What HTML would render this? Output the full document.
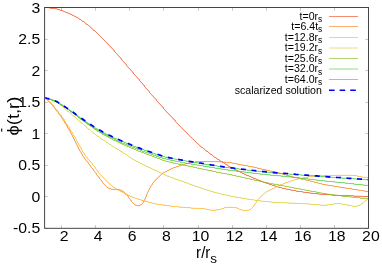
<!DOCTYPE html><html><head><meta charset="utf-8"><style>html,body{margin:0;padding:0;background:#fff}svg{display:block}text{font-family:"Liberation Sans",sans-serif;fill:#000}</style></head><body>
<svg width="382" height="267" viewBox="0 0 382 267">
<rect width="382" height="267" fill="#fff"/>
<path d="M61.50 228.30 v-3.2 M61.50 7.50 v3.2 M95.50 228.30 v-3.2 M95.50 7.50 v3.2 M129.50 228.30 v-3.2 M129.50 7.50 v3.2 M163.50 228.30 v-3.2 M163.50 7.50 v3.2 M198.50 228.30 v-3.2 M198.50 7.50 v3.2 M232.50 228.30 v-3.2 M232.50 7.50 v3.2 M266.50 228.30 v-3.2 M266.50 7.50 v3.2 M300.50 228.30 v-3.2 M300.50 7.50 v3.2 M334.50 228.30 v-3.2 M334.50 7.50 v3.2 M368.50 228.30 v-3.2 M368.50 7.50 v3.2 M44.60 228.50 h3.2 M368.50 228.50 h-3.2 M44.60 196.50 h3.2 M368.50 196.50 h-3.2 M44.60 165.50 h3.2 M368.50 165.50 h-3.2 M44.60 133.50 h3.2 M368.50 133.50 h-3.2 M44.60 102.50 h3.2 M368.50 102.50 h-3.2 M44.60 70.50 h3.2 M368.50 70.50 h-3.2 M44.60 39.50 h3.2 M368.50 39.50 h-3.2 M44.60 7.50 h3.2 M368.50 7.50 h-3.2" stroke="#8c8c8c" stroke-width="0.5" fill="none"/>
<path d="M45 7h5v1h-5zM50 8h7v1h-7zM57 9h3v1h-3zM60 10h3v1h-3zM63 11h2v1h-2zM65 12h3v1h-3zM68 13h2v1h-2zM70 14h2v1h-2zM72 15h2v1h-2zM74 16h2v1h-2zM76 17h2v1h-2zM78 18h1v1h-1zM79 19h2v1h-2zM81 20h1v1h-1zM82 21h2v1h-2zM84 22h1v1h-1zM85 23h1v1h-1zM86 24h2v1h-2zM88 25h1v1h-1zM89 26h1v1h-1zM90 27h1v1h-1zM91 28h1v1h-1zM92 29h1v1h-1zM93 30h2v1h-2zM95 31h1v1h-1zM96 32h1v1h-1zM97 33h1v1h-1zM98 34h1v1h-1zM99 35h1v1h-1zM100 36h1v1h-1zM101 37h1v1h-1zM102 38h1v1h-1zM103 39h1v1h-1zM104 40h1v1h-1zM105 41h1v1h-1zM106 42h1v1h-1zM107 43h1v1h-1zM108 44h1v1h-1zM109 45h1v1h-1zM110 46h1v1h-1zM111 47h1v1h-1zM112 48h1v1h-1zM113 49h1v1h-1zM114 50h1v1h-1zM114 51h1v1h-1zM115 52h1v1h-1zM116 53h1v1h-1zM117 54h1v1h-1zM118 55h1v1h-1zM119 56h1v1h-1zM120 57h1v1h-1zM121 58h1v1h-1zM121 59h1v1h-1zM122 60h1v1h-1zM123 61h1v1h-1zM124 62h1v1h-1zM125 63h1v1h-1zM126 64h1v1h-1zM126 65h1v1h-1zM127 66h1v1h-1zM128 67h1v1h-1zM129 68h1v1h-1zM130 69h1v1h-1zM131 70h1v1h-1zM132 71h1v1h-1zM133 72h1v1h-1zM133 73h1v1h-1zM134 74h1v1h-1zM135 75h1v1h-1zM136 76h1v1h-1zM137 77h1v1h-1zM138 78h1v1h-1zM139 79h1v1h-1zM139 80h1v1h-1zM140 81h1v1h-1zM141 82h1v1h-1zM142 83h1v1h-1zM143 84h1v1h-1zM144 85h1v1h-1zM144 86h1v1h-1zM145 87h1v1h-1zM146 88h1v1h-1zM147 89h1v1h-1zM148 90h1v1h-1zM149 91h1v1h-1zM149 92h1v1h-1zM150 93h1v1h-1zM151 94h1v1h-1zM152 95h1v1h-1zM153 96h1v1h-1zM154 97h1v1h-1zM155 98h1v1h-1zM156 99h1v1h-1zM156 100h1v1h-1zM157 101h1v1h-1zM158 102h1v1h-1zM159 103h1v1h-1zM160 104h1v1h-1zM161 105h1v1h-1zM162 106h1v1h-1zM163 107h1v1h-1zM163 108h1v1h-1zM164 109h1v1h-1zM165 110h1v1h-1zM166 111h1v1h-1zM167 112h1v1h-1zM168 113h1v1h-1zM169 114h1v1h-1zM170 115h1v1h-1zM171 116h1v1h-1zM172 117h1v1h-1zM173 118h1v1h-1zM174 119h1v1h-1zM175 120h1v1h-1zM175 121h1v1h-1zM176 122h1v1h-1zM177 123h1v1h-1zM178 124h1v1h-1zM179 125h1v1h-1zM180 126h1v1h-1zM181 127h1v1h-1zM182 128h1v1h-1zM183 129h1v1h-1zM184 130h1v1h-1zM185 131h1v1h-1zM186 132h1v1h-1zM187 133h1v1h-1zM188 134h1v1h-1zM189 135h1v1h-1zM190 136h1v1h-1zM191 137h1v1h-1zM192 138h1v1h-1zM193 139h1v1h-1zM194 140h1v1h-1zM195 141h1v1h-1zM196 142h1v1h-1zM197 143h1v1h-1zM198 144h1v1h-1zM199 145h1v1h-1zM200 146h1v1h-1zM201 147h2v1h-2zM203 148h1v1h-1zM204 149h1v1h-1zM205 150h1v1h-1zM206 151h2v1h-2zM208 152h1v1h-1zM209 153h1v1h-1zM210 154h2v1h-2zM212 155h1v1h-1zM213 156h1v1h-1zM214 157h2v1h-2zM216 158h1v1h-1zM217 159h2v1h-2zM219 160h1v1h-1zM220 161h2v1h-2zM222 162h2v1h-2zM224 163h1v1h-1zM225 164h2v1h-2zM227 165h1v1h-1zM228 166h2v1h-2zM230 167h2v1h-2zM232 168h2v1h-2zM234 169h2v1h-2zM236 170h2v1h-2zM238 171h2v1h-2zM240 172h2v1h-2zM242 173h2v1h-2zM244 174h2v1h-2zM246 175h3v1h-3zM249 176h2v1h-2zM251 177h2v1h-2zM253 178h3v1h-3zM256 179h2v1h-2zM258 180h3v1h-3zM261 181h2v1h-2zM263 182h3v1h-3zM266 183h3v1h-3zM269 184h3v1h-3zM272 185h3v1h-3zM275 186h3v1h-3zM278 187h4v1h-4zM282 188h4v1h-4zM286 189h5v1h-5zM291 190h5v1h-5zM296 191h7v1h-7zM303 192h7v1h-7zM310 193h9v1h-9zM319 194h13v1h-13zM332 195h22v1h-22zM354 196h15v1h-15z" fill="#f2481c" fill-opacity="0.50" shape-rendering="crispEdges"/>
<path d="M45.3 7.5 L46.1 7.6 L46.9 7.6 L47.7 7.7 L48.5 7.8 L49.3 7.9 L50.1 7.9 L50.9 8.0 L51.6 8.1 L52.3 8.2 L52.9 8.3 L53.5 8.3 L54.1 8.4 L54.7 8.5 L55.4 8.6 L56.0 8.7 L56.7 8.9 L57.4 9.1 L58.2 9.3 L59.0 9.6 L59.8 9.8 L60.6 10.1 L61.5 10.4 L62.3 10.7 L63.1 11.0 L63.9 11.3 L64.7 11.6 L65.5 11.9 L66.3 12.2 L67.1 12.6 L67.9 12.9 L68.7 13.2 L69.5 13.6 L70.3 14.0 L71.1 14.3 L71.9 14.7 L72.6 15.1 L73.4 15.5 L74.2 15.9 L75.0 16.3 L75.8 16.7 L76.6 17.1 L77.4 17.6 L78.2 18.1 L79.0 18.5 L79.8 19.0 L80.6 19.5 L81.4 20.1 L82.2 20.6 L83.0 21.2 L83.9 21.8 L84.7 22.4 L85.6 23.1 L86.4 23.7 L87.2 24.3 L87.9 24.9 L88.6 25.4 L89.2 25.8 L89.6 26.2 L90.0 26.5 L90.4 26.8 L90.8 27.1 L91.1 27.4 L91.5 27.8 L92.0 28.2 L92.5 28.7 L93.0 29.2 L93.6 29.7 L94.2 30.2 L94.8 30.8 L95.4 31.4 L96.0 32.0 L96.7 32.7 L97.4 33.4 L98.2 34.2 L99.0 34.9 L99.8 35.7 L100.6 36.6 L101.5 37.4 L102.3 38.3 L103.1 39.1 L103.9 39.9 L104.7 40.8 L105.5 41.7 L106.3 42.5 L107.1 43.4 L107.9 44.3 L108.7 45.2 L109.5 46.1 L110.3 47.0 L111.2 47.9 L112.1 48.8 L113.0 49.8 L113.8 50.7 L114.7 51.6 L115.6 52.6 L116.4 53.5 L117.2 54.4 L118.0 55.3 L118.8 56.3 L119.6 57.2 L120.4 58.1 L121.1 59.0 L121.9 60.0 L122.7 60.9 L123.5 61.8 L124.3 62.8 L125.1 63.7 L125.9 64.7 L126.7 65.7 L127.5 66.6 L128.3 67.6 L129.1 68.5 L129.9 69.4 L130.7 70.3 L131.5 71.2 L132.2 72.1 L133.0 73.0 L133.8 73.9 L134.7 74.8 L135.5 75.8 L136.4 76.8 L137.3 77.9 L138.2 78.9 L139.1 80.0 L140.0 81.1 L140.9 82.2 L141.8 83.3 L142.7 84.3 L143.5 85.3 L144.4 86.3 L145.2 87.2 L145.9 88.2 L146.7 89.1 L147.5 90.0 L148.3 91.0 L149.1 91.9 L149.9 92.8 L150.7 93.7 L151.5 94.7 L152.2 95.6 L153.0 96.5 L153.8 97.4 L154.7 98.3 L155.5 99.3 L156.4 100.3 L157.3 101.3 L158.2 102.4 L159.1 103.4 L160.0 104.5 L160.9 105.5 L161.8 106.5 L162.7 107.5 L163.5 108.5 L164.4 109.4 L165.2 110.3 L165.9 111.2 L166.7 112.1 L167.5 113.0 L168.3 113.8 L169.1 114.7 L169.9 115.6 L170.7 116.4 L171.5 117.3 L172.3 118.2 L173.1 119.0 L173.9 119.9 L174.7 120.7 L175.5 121.5 L176.3 122.3 L177.0 123.1 L177.7 123.9 L178.5 124.6 L179.2 125.4 L179.9 126.1 L180.6 126.9 L181.4 127.7 L182.2 128.5 L182.9 129.3 L183.7 130.1 L184.5 131.0 L185.3 131.8 L186.1 132.6 L186.9 133.4 L187.7 134.2 L188.5 135.0 L189.3 135.8 L190.1 136.5 L190.9 137.3 L191.7 138.1 L192.5 138.8 L193.3 139.6 L194.1 140.3 L194.9 141.0 L195.7 141.7 L196.4 142.5 L197.2 143.2 L198.0 143.9 L198.8 144.6 L199.6 145.3 L200.5 146.0 L201.4 146.7 L202.3 147.5 L203.3 148.2 L204.2 149.0 L205.2 149.8 L206.2 150.5 L207.1 151.3 L208.1 152.0 L209.0 152.7 L210.0 153.4 L210.9 154.2 L211.9 154.9 L212.8 155.6 L213.8 156.3 L214.8 157.0 L215.8 157.7 L216.9 158.4 L218.0 159.2 L219.2 159.9 L220.3 160.7 L221.5 161.4 L222.6 162.2 L223.8 162.9 L224.8 163.5 L225.8 164.1 L226.7 164.7 L227.6 165.2 L228.4 165.7 L229.3 166.2 L230.1 166.7 L231.0 167.2 L232.0 167.7 L233.0 168.2 L234.0 168.8 L235.0 169.3 L236.0 169.9 L237.1 170.4 L238.2 171.0 L239.4 171.6 L240.7 172.2 L242.1 172.9 L243.6 173.6 L245.2 174.3 L246.8 175.0 L248.5 175.8 L250.2 176.5 L251.9 177.2 L253.5 177.9 L255.1 178.6 L256.8 179.3 L258.4 179.9 L260.0 180.6 L261.7 181.3 L263.2 181.9 L264.8 182.5 L266.2 183.0 L267.6 183.5 L268.9 184.0 L270.1 184.4 L271.4 184.8 L272.5 185.1 L273.7 185.5 L274.8 185.9 L276.0 186.2 L277.1 186.5 L278.2 186.9 L279.2 187.2 L280.2 187.4 L281.2 187.7 L282.3 188.0 L283.4 188.3 L284.7 188.6 L286.1 188.9 L287.6 189.2 L289.2 189.6 L290.9 189.9 L292.5 190.2 L294.2 190.5 L295.9 190.8 L297.5 191.1 L299.1 191.4 L300.7 191.6 L302.2 191.9 L303.8 192.1 L305.4 192.4 L306.9 192.6 L308.6 192.8 L310.2 193.0 L311.9 193.2 L313.5 193.4 L315.2 193.6 L316.8 193.8 L318.6 193.9 L320.3 194.1 L322.1 194.2 L324.0 194.4 L326.0 194.6 L328.0 194.7 L330.1 194.9 L332.2 195.0 L334.4 195.1 L336.5 195.3 L338.7 195.4 L340.8 195.5 L342.9 195.6 L345.2 195.7 L347.4 195.8 L349.6 195.8 L351.8 195.9 L353.9 196.0 L355.9 196.0 L357.7 196.1 L359.3 196.2 L360.8 196.2 L362.2 196.3 L363.5 196.4 L364.7 196.4 L365.9 196.5 L367.2 196.5 L368.5 196.6" stroke="#f2481c" stroke-width="0.80" stroke-opacity="0.60" fill="none" stroke-linejoin="round"/>
<path d="M45 98h1v1h-1zM46 99h1v1h-1zM47 100h1v1h-1zM48 101h1v1h-1zM49 102h1v1h-1zM50 103h1v1h-1zM51 104h1v1h-1zM52 105h1v1h-1zM53 106h1v1h-1zM54 107h1v1h-1zM55 108h1v1h-1zM55 109h1v1h-1zM56 110h1v1h-1zM57 111h1v1h-1zM58 112h1v1h-1zM58 113h1v1h-1zM59 114h1v1h-1zM60 115h1v1h-1zM61 116h1v1h-1zM61 117h1v1h-1zM62 118h1v1h-1zM63 119h1v1h-1zM63 120h1v1h-1zM64 121h1v1h-1zM64 122h1v1h-1zM65 123h1v1h-1zM66 124h1v1h-1zM66 125h1v1h-1zM67 126h1v1h-1zM67 127h1v1h-1zM68 128h1v1h-1zM69 129h1v1h-1zM69 130h1v1h-1zM70 131h1v1h-1zM70 132h1v1h-1zM71 133h1v1h-1zM71 134h1v1h-1zM72 135h1v1h-1zM72 136h1v1h-1zM73 137h1v1h-1zM73 138h1v1h-1zM74 139h1v1h-1zM74 140h1v1h-1zM75 141h1v1h-1zM75 142h1v1h-1zM76 143h1v1h-1zM76 144h1v1h-1zM77 145h1v1h-1zM77 146h1v1h-1zM78 147h1v1h-1zM78 148h1v1h-1zM79 149h1v1h-1zM79 150h1v1h-1zM80 151h1v1h-1zM81 152h1v1h-1zM81 153h1v1h-1zM82 154h1v1h-1zM82 155h1v1h-1zM83 156h1v1h-1zM84 157h1v1h-1zM84 158h1v1h-1zM85 159h1v1h-1zM86 160h1v1h-1zM87 161h1v1h-1zM195 161h28v1h-28zM88 162h1v1h-1zM189 162h6v1h-6zM223 162h9v1h-9zM88 163h1v1h-1zM185 163h4v1h-4zM232 163h5v1h-5zM89 164h1v1h-1zM182 164h3v1h-3zM237 164h5v1h-5zM90 165h1v1h-1zM179 165h3v1h-3zM242 165h6v1h-6zM90 166h1v1h-1zM176 166h3v1h-3zM248 166h5v1h-5zM91 167h1v1h-1zM173 167h3v1h-3zM253 167h4v1h-4zM92 168h1v1h-1zM171 168h2v1h-2zM257 168h4v1h-4zM93 169h1v1h-1zM169 169h2v1h-2zM261 169h5v1h-5zM93 170h1v1h-1zM167 170h2v1h-2zM266 170h4v1h-4zM94 171h1v1h-1zM165 171h2v1h-2zM270 171h5v1h-5zM95 172h1v1h-1zM163 172h2v1h-2zM275 172h4v1h-4zM96 173h1v1h-1zM162 173h1v1h-1zM279 173h3v1h-3zM96 174h1v1h-1zM161 174h1v1h-1zM282 174h4v1h-4zM97 175h1v1h-1zM160 175h1v1h-1zM286 175h3v1h-3zM98 176h1v1h-1zM159 176h1v1h-1zM289 176h4v1h-4zM99 177h1v1h-1zM158 177h1v1h-1zM293 177h4v1h-4zM99 178h1v1h-1zM157 178h1v1h-1zM297 178h4v1h-4zM100 179h1v1h-1zM156 179h1v1h-1zM301 179h5v1h-5zM101 180h1v1h-1zM155 180h1v1h-1zM306 180h4v1h-4zM102 181h1v1h-1zM154 181h1v1h-1zM310 181h4v1h-4zM102 182h1v1h-1zM153 182h1v1h-1zM314 182h4v1h-4zM103 183h1v1h-1zM152 183h1v1h-1zM318 183h4v1h-4zM104 184h1v1h-1zM152 184h1v1h-1zM322 184h5v1h-5zM105 185h1v1h-1zM151 185h1v1h-1zM327 185h6v1h-6zM106 186h1v1h-1zM150 186h1v1h-1zM333 186h6v1h-6zM107 187h1v1h-1zM150 187h1v1h-1zM339 187h6v1h-6zM108 188h3v1h-3zM149 188h1v1h-1zM345 188h7v1h-7zM111 189h9v1h-9zM149 189h1v1h-1zM352 189h6v1h-6zM120 190h2v1h-2zM148 190h1v1h-1zM358 190h6v1h-6zM122 191h2v1h-2zM148 191h1v1h-1zM364 191h5v1h-5zM124 192h1v1h-1zM147 192h1v1h-1zM125 193h1v1h-1zM147 193h1v1h-1zM126 194h1v1h-1zM146 194h1v1h-1zM127 195h1v1h-1zM146 195h1v1h-1zM128 196h1v1h-1zM146 196h1v1h-1zM128 197h1v1h-1zM145 197h1v1h-1zM129 198h1v1h-1zM145 198h1v1h-1zM130 199h1v1h-1zM144 199h1v1h-1zM131 200h1v1h-1zM144 200h1v1h-1zM131 201h1v1h-1zM143 201h1v1h-1zM132 202h1v1h-1zM143 202h1v1h-1zM133 203h1v1h-1zM142 203h1v1h-1zM134 204h1v1h-1zM140 204h2v1h-2zM135 205h5v1h-5z" fill="#f97f18" fill-opacity="0.50" shape-rendering="crispEdges"/>
<path d="M45.3 98.2 L45.9 98.7 L46.5 99.3 L47.2 99.8 L47.8 100.3 L48.4 100.8 L49.0 101.4 L49.7 102.0 L50.4 102.8 L51.1 103.7 L51.9 104.6 L52.7 105.6 L53.5 106.7 L54.3 107.8 L55.1 108.9 L55.9 110.0 L56.7 111.1 L57.5 112.1 L58.2 113.1 L59.0 114.1 L59.7 115.0 L60.5 116.1 L61.3 117.2 L62.1 118.5 L63.1 120.0 L64.2 121.7 L65.3 123.6 L66.5 125.6 L67.7 127.8 L69.0 130.0 L70.3 132.2 L71.5 134.4 L72.7 136.6 L73.9 138.8 L75.0 141.0 L76.1 143.3 L77.3 145.6 L78.4 147.8 L79.5 150.0 L80.6 152.1 L81.7 154.0 L82.8 155.8 L83.9 157.4 L84.9 158.8 L86.0 160.3 L87.0 161.7 L88.1 163.0 L89.2 164.5 L90.3 166.0 L91.5 167.6 L92.8 169.4 L94.1 171.1 L95.4 172.9 L96.7 174.7 L97.9 176.3 L99.0 177.8 L100.0 179.1 L100.8 180.2 L101.5 181.2 L102.1 182.0 L102.7 182.7 L103.2 183.4 L103.6 184.0 L104.1 184.5 L104.7 185.1 L105.3 185.6 L105.9 186.1 L106.5 186.6 L107.0 187.0 L107.6 187.4 L108.2 187.7 L108.8 188.0 L109.4 188.3 L110.0 188.5 L110.6 188.7 L111.2 188.9 L111.8 189.0 L112.4 189.1 L113.0 189.2 L113.6 189.2 L114.2 189.3 L114.8 189.4 L115.4 189.4 L116.0 189.4 L116.6 189.4 L117.2 189.5 L117.8 189.5 L118.4 189.5 L118.9 189.6 L119.4 189.7 L119.9 189.8 L120.4 189.9 L120.8 190.0 L121.2 190.1 L121.7 190.3 L122.1 190.5 L122.6 190.8 L123.1 191.1 L123.5 191.5 L124.0 191.9 L124.4 192.3 L124.9 192.8 L125.4 193.3 L125.9 193.9 L126.4 194.5 L127.0 195.2 L127.5 196.0 L128.1 196.9 L128.8 197.8 L129.4 198.7 L130.0 199.6 L130.5 200.4 L131.1 201.1 L131.6 201.7 L132.1 202.2 L132.6 202.7 L133.1 203.1 L133.5 203.5 L134.0 203.9 L134.4 204.2 L134.9 204.5 L135.4 204.8 L135.9 205.0 L136.4 205.3 L136.9 205.4 L137.3 205.6 L137.8 205.7 L138.3 205.8 L138.7 205.8 L139.1 205.8 L139.5 205.7 L139.8 205.6 L140.2 205.5 L140.5 205.3 L140.8 205.1 L141.2 204.8 L141.5 204.5 L141.8 204.1 L142.2 203.7 L142.5 203.2 L142.9 202.7 L143.2 202.1 L143.6 201.5 L143.9 200.9 L144.3 200.2 L144.7 199.5 L145.0 198.7 L145.3 197.9 L145.7 197.1 L146.0 196.2 L146.4 195.4 L146.8 194.5 L147.2 193.6 L147.6 192.7 L148.0 191.7 L148.5 190.8 L148.9 189.8 L149.4 188.8 L149.9 187.9 L150.4 186.9 L150.9 186.0 L151.4 185.1 L152.0 184.3 L152.5 183.4 L153.1 182.6 L153.7 181.8 L154.3 181.0 L155.0 180.2 L155.7 179.4 L156.4 178.6 L157.2 177.9 L157.9 177.2 L158.7 176.5 L159.5 175.8 L160.4 175.1 L161.3 174.5 L162.3 173.8 L163.4 173.1 L164.5 172.4 L165.7 171.8 L166.9 171.1 L168.1 170.5 L169.4 169.8 L170.6 169.2 L171.8 168.7 L172.9 168.2 L174.1 167.8 L175.2 167.3 L176.3 166.9 L177.4 166.6 L178.5 166.2 L179.6 165.9 L180.8 165.5 L182.0 165.1 L183.2 164.8 L184.4 164.4 L185.6 164.1 L186.8 163.7 L188.0 163.4 L189.2 163.2 L190.4 162.9 L191.5 162.7 L192.5 162.5 L193.5 162.3 L194.4 162.1 L195.4 162.0 L196.6 161.9 L197.8 161.8 L199.3 161.7 L201.0 161.6 L203.0 161.6 L205.1 161.6 L207.3 161.6 L209.6 161.6 L211.8 161.6 L213.9 161.7 L215.8 161.7 L217.5 161.7 L219.1 161.8 L220.7 161.8 L222.1 161.9 L223.6 162.0 L225.0 162.1 L226.5 162.2 L228.0 162.4 L229.6 162.6 L231.1 162.8 L232.7 163.1 L234.3 163.4 L235.9 163.7 L237.5 164.0 L239.1 164.3 L240.7 164.6 L242.3 164.9 L243.9 165.2 L245.5 165.5 L247.1 165.8 L248.7 166.1 L250.3 166.4 L251.9 166.8 L253.5 167.1 L255.1 167.4 L256.8 167.8 L258.4 168.2 L260.0 168.6 L261.7 168.9 L263.2 169.3 L264.8 169.7 L266.2 170.0 L267.6 170.3 L268.9 170.6 L270.1 170.9 L271.4 171.1 L272.5 171.4 L273.7 171.7 L274.8 171.9 L276.0 172.2 L277.1 172.5 L278.2 172.8 L279.2 173.0 L280.2 173.3 L281.2 173.6 L282.3 173.9 L283.4 174.3 L284.7 174.6 L286.1 175.0 L287.6 175.4 L289.2 175.8 L290.9 176.3 L292.5 176.7 L294.2 177.2 L295.9 177.6 L297.5 178.0 L299.1 178.4 L300.7 178.7 L302.2 179.1 L303.8 179.4 L305.4 179.8 L306.9 180.1 L308.6 180.5 L310.2 180.9 L311.9 181.3 L313.5 181.7 L315.2 182.2 L316.8 182.7 L318.6 183.1 L320.3 183.6 L322.1 184.0 L324.0 184.4 L326.0 184.8 L328.0 185.2 L330.1 185.5 L332.2 185.8 L334.4 186.2 L336.5 186.5 L338.7 186.9 L340.8 187.2 L342.9 187.5 L345.2 187.9 L347.4 188.3 L349.6 188.6 L351.8 189.0 L353.9 189.3 L355.9 189.6 L357.7 189.9 L359.3 190.2 L360.8 190.4 L362.2 190.6 L363.5 190.8 L364.7 191.0 L365.9 191.2 L367.2 191.4 L368.5 191.6" stroke="#f97f18" stroke-width="0.80" stroke-opacity="0.60" fill="none" stroke-linejoin="round"/>
<path d="M45 98h1v1h-1zM46 99h1v1h-1zM47 100h1v1h-1zM48 101h2v1h-2zM50 102h1v1h-1zM51 103h1v1h-1zM52 104h1v1h-1zM53 105h1v1h-1zM54 106h1v1h-1zM54 107h1v1h-1zM55 108h1v1h-1zM56 109h1v1h-1zM57 110h1v1h-1zM58 111h1v1h-1zM58 112h1v1h-1zM59 113h1v1h-1zM60 114h1v1h-1zM61 115h1v1h-1zM61 116h1v1h-1zM62 117h1v1h-1zM63 118h1v1h-1zM64 119h1v1h-1zM64 120h1v1h-1zM65 121h1v1h-1zM65 122h1v1h-1zM66 123h1v1h-1zM67 124h1v1h-1zM67 125h1v1h-1zM68 126h1v1h-1zM69 127h1v1h-1zM69 128h1v1h-1zM70 129h1v1h-1zM70 130h1v1h-1zM71 131h1v1h-1zM72 132h1v1h-1zM72 133h1v1h-1zM73 134h1v1h-1zM73 135h1v1h-1zM74 136h1v1h-1zM75 137h1v1h-1zM75 138h1v1h-1zM76 139h1v1h-1zM76 140h1v1h-1zM77 141h1v1h-1zM77 142h1v1h-1zM78 143h1v1h-1zM78 144h1v1h-1zM79 145h1v1h-1zM80 146h1v1h-1zM80 147h1v1h-1zM81 148h1v1h-1zM81 149h1v1h-1zM82 150h1v1h-1zM82 151h1v1h-1zM83 152h1v1h-1zM84 153h1v1h-1zM84 154h1v1h-1zM85 155h1v1h-1zM86 156h1v1h-1zM87 157h1v1h-1zM87 158h1v1h-1zM88 159h1v1h-1zM89 160h1v1h-1zM90 161h1v1h-1zM91 162h1v1h-1zM92 163h1v1h-1zM92 164h1v1h-1zM93 165h1v1h-1zM94 166h1v1h-1zM95 167h1v1h-1zM95 168h1v1h-1zM96 169h1v1h-1zM97 170h1v1h-1zM98 171h1v1h-1zM98 172h1v1h-1zM99 173h1v1h-1zM100 174h1v1h-1zM101 175h1v1h-1zM319 175h38v1h-38zM102 176h1v1h-1zM308 176h11v1h-11zM357 176h5v1h-5zM103 177h1v1h-1zM303 177h5v1h-5zM362 177h7v1h-7zM104 178h1v1h-1zM298 178h5v1h-5zM105 179h1v1h-1zM294 179h4v1h-4zM106 180h1v1h-1zM291 180h3v1h-3zM107 181h1v1h-1zM288 181h3v1h-3zM108 182h1v1h-1zM285 182h3v1h-3zM109 183h1v1h-1zM283 183h2v1h-2zM110 184h1v1h-1zM280 184h3v1h-3zM111 185h1v1h-1zM278 185h2v1h-2zM112 186h1v1h-1zM276 186h2v1h-2zM113 187h2v1h-2zM274 187h2v1h-2zM115 188h1v1h-1zM272 188h2v1h-2zM116 189h2v1h-2zM270 189h2v1h-2zM118 190h2v1h-2zM268 190h2v1h-2zM120 191h2v1h-2zM266 191h2v1h-2zM122 192h2v1h-2zM265 192h1v1h-1zM124 193h1v1h-1zM264 193h1v1h-1zM125 194h3v1h-3zM263 194h1v1h-1zM128 195h2v1h-2zM262 195h1v1h-1zM130 196h2v1h-2zM261 196h1v1h-1zM132 197h3v1h-3zM260 197h1v1h-1zM135 198h3v1h-3zM259 198h1v1h-1zM138 199h3v1h-3zM258 199h1v1h-1zM141 200h3v1h-3zM257 200h1v1h-1zM144 201h4v1h-4zM256 201h1v1h-1zM148 202h4v1h-4zM256 202h1v1h-1zM152 203h4v1h-4zM255 203h1v1h-1zM156 204h7v1h-7zM254 204h1v1h-1zM163 205h7v1h-7zM254 205h1v1h-1zM170 206h9v1h-9zM253 206h1v1h-1zM179 207h12v1h-12zM224 207h13v1h-13zM252 207h1v1h-1zM191 208h14v1h-14zM221 208h3v1h-3zM237 208h2v1h-2zM251 208h1v1h-1zM205 209h5v1h-5zM216 209h5v1h-5zM239 209h3v1h-3zM249 209h2v1h-2zM210 210h6v1h-6zM242 210h7v1h-7z" fill="#fdb31e" fill-opacity="0.50" shape-rendering="crispEdges"/>
<path d="M45.3 98.2 L46.0 98.7 L46.6 99.2 L47.2 99.7 L47.9 100.2 L48.5 100.7 L49.2 101.2 L49.9 101.9 L50.6 102.6 L51.3 103.4 L52.1 104.3 L52.9 105.3 L53.7 106.3 L54.5 107.4 L55.3 108.4 L56.2 109.5 L57.0 110.6 L57.8 111.6 L58.6 112.6 L59.4 113.6 L60.2 114.6 L61.0 115.6 L61.9 116.8 L62.8 118.1 L63.8 119.6 L64.9 121.3 L66.1 123.2 L67.4 125.2 L68.7 127.3 L70.1 129.5 L71.4 131.7 L72.7 133.9 L74.0 136.0 L75.2 138.1 L76.4 140.3 L77.6 142.5 L78.8 144.7 L80.0 146.9 L81.2 149.0 L82.4 151.0 L83.6 153.0 L84.9 154.9 L86.2 156.7 L87.6 158.5 L89.0 160.2 L90.4 161.9 L91.7 163.4 L92.9 164.9 L94.0 166.3 L95.0 167.5 L95.8 168.7 L96.5 169.6 L97.2 170.6 L97.8 171.5 L98.5 172.3 L99.2 173.2 L100.0 174.2 L100.9 175.2 L101.8 176.3 L102.7 177.3 L103.6 178.4 L104.6 179.4 L105.6 180.4 L106.5 181.4 L107.5 182.3 L108.4 183.1 L109.4 183.9 L110.3 184.6 L111.3 185.3 L112.3 186.0 L113.2 186.6 L114.2 187.3 L115.1 187.9 L116.0 188.5 L117.0 189.1 L117.9 189.7 L118.9 190.2 L119.8 190.8 L120.7 191.3 L121.7 191.8 L122.6 192.3 L123.5 192.8 L124.5 193.3 L125.4 193.8 L126.4 194.2 L127.4 194.7 L128.3 195.1 L129.3 195.6 L130.2 196.0 L131.1 196.4 L132.0 196.8 L132.9 197.2 L133.8 197.5 L134.7 197.9 L135.7 198.2 L136.7 198.5 L137.7 198.9 L138.8 199.3 L139.9 199.6 L141.1 200.0 L142.3 200.3 L143.6 200.7 L144.8 201.0 L146.0 201.4 L147.2 201.7 L148.3 202.0 L149.4 202.3 L150.5 202.6 L151.5 202.9 L152.6 203.2 L153.8 203.4 L155.1 203.7 L156.6 204.0 L158.3 204.3 L160.1 204.6 L162.1 204.9 L164.2 205.2 L166.3 205.5 L168.3 205.7 L170.3 206.0 L172.0 206.2 L173.6 206.4 L175.0 206.6 L176.3 206.7 L177.5 206.8 L178.8 206.9 L180.0 207.1 L181.4 207.2 L182.8 207.3 L184.4 207.4 L186.1 207.6 L187.8 207.7 L189.6 207.8 L191.4 208.0 L193.0 208.1 L194.6 208.2 L196.0 208.3 L197.2 208.4 L198.3 208.4 L199.3 208.5 L200.2 208.5 L201.1 208.5 L201.9 208.6 L202.7 208.6 L203.5 208.7 L204.3 208.8 L205.1 208.9 L205.8 209.1 L206.5 209.2 L207.1 209.4 L207.8 209.6 L208.5 209.7 L209.2 209.8 L209.9 209.9 L210.6 210.0 L211.3 210.1 L212.1 210.1 L212.8 210.2 L213.5 210.2 L214.2 210.2 L214.9 210.2 L215.6 210.1 L216.3 210.1 L217.0 210.0 L217.7 209.8 L218.4 209.7 L219.1 209.5 L219.8 209.4 L220.5 209.2 L221.2 209.0 L221.9 208.8 L222.6 208.6 L223.3 208.3 L224.1 208.1 L224.8 207.8 L225.5 207.7 L226.2 207.5 L226.9 207.4 L227.6 207.3 L228.3 207.2 L229.1 207.2 L229.8 207.2 L230.5 207.2 L231.1 207.2 L231.8 207.2 L232.4 207.2 L233.1 207.3 L233.7 207.3 L234.3 207.4 L234.8 207.5 L235.4 207.6 L236.0 207.7 L236.6 207.9 L237.2 208.1 L237.8 208.3 L238.4 208.6 L239.0 208.8 L239.5 209.1 L240.1 209.4 L240.7 209.6 L241.3 209.8 L241.9 210.0 L242.5 210.1 L243.1 210.3 L243.7 210.4 L244.3 210.5 L244.9 210.5 L245.5 210.6 L246.0 210.6 L246.5 210.6 L247.0 210.5 L247.5 210.5 L248.0 210.4 L248.5 210.3 L248.9 210.1 L249.4 210.0 L249.8 209.8 L250.2 209.6 L250.5 209.4 L250.9 209.2 L251.2 208.9 L251.5 208.6 L251.9 208.3 L252.2 207.9 L252.6 207.4 L253.0 206.8 L253.5 206.2 L253.9 205.5 L254.4 204.8 L254.9 204.0 L255.4 203.2 L255.9 202.4 L256.4 201.7 L256.9 201.0 L257.5 200.3 L258.0 199.5 L258.6 198.8 L259.1 198.1 L259.7 197.4 L260.4 196.7 L261.1 196.0 L261.9 195.3 L262.7 194.7 L263.7 194.0 L264.6 193.4 L265.5 192.8 L266.4 192.2 L267.3 191.7 L268.0 191.2 L268.6 190.8 L269.1 190.5 L269.6 190.2 L270.0 190.0 L270.5 189.8 L270.9 189.5 L271.4 189.3 L272.0 189.0 L272.7 188.7 L273.4 188.3 L274.2 187.9 L275.1 187.5 L275.9 187.1 L276.8 186.7 L277.6 186.4 L278.4 186.0 L279.2 185.7 L280.0 185.3 L280.8 185.0 L281.5 184.7 L282.3 184.3 L283.1 184.0 L283.9 183.7 L284.7 183.4 L285.5 183.1 L286.3 182.8 L287.1 182.5 L287.9 182.2 L288.7 181.9 L289.5 181.6 L290.3 181.4 L291.1 181.1 L291.9 180.9 L292.7 180.6 L293.4 180.4 L294.2 180.2 L295.0 179.9 L295.8 179.7 L296.6 179.5 L297.5 179.3 L298.4 179.1 L299.3 178.9 L300.3 178.6 L301.2 178.4 L302.2 178.2 L303.2 178.0 L304.1 177.8 L305.1 177.6 L306.0 177.4 L306.9 177.3 L307.8 177.1 L308.7 176.9 L309.7 176.8 L310.6 176.6 L311.7 176.5 L312.8 176.4 L314.0 176.3 L315.2 176.2 L316.5 176.1 L317.8 176.1 L319.2 176.0 L320.7 175.9 L322.3 175.9 L324.0 175.8 L325.9 175.7 L327.9 175.6 L330.0 175.5 L332.3 175.4 L334.5 175.4 L336.7 175.3 L338.8 175.2 L340.8 175.2 L342.7 175.2 L344.5 175.2 L346.3 175.2 L348.1 175.2 L349.8 175.3 L351.4 175.3 L352.9 175.4 L354.3 175.5 L355.6 175.6 L356.8 175.8 L357.9 176.0 L359.0 176.2 L360.0 176.5 L360.9 176.7 L361.8 176.8 L362.7 177.0 L363.5 177.1 L364.3 177.2 L365.1 177.3 L365.8 177.4 L366.4 177.4 L367.1 177.5 L367.8 177.5 L368.5 177.6" stroke="#fdb31e" stroke-width="0.80" stroke-opacity="0.60" fill="none" stroke-linejoin="round"/>
<path d="M45 98h3v1h-3zM48 99h3v1h-3zM51 100h3v1h-3zM54 101h2v1h-2zM56 102h2v1h-2zM58 103h1v1h-1zM59 104h1v1h-1zM60 105h2v1h-2zM62 106h1v1h-1zM63 107h1v1h-1zM64 108h1v1h-1zM65 109h1v1h-1zM66 110h1v1h-1zM67 111h2v1h-2zM69 112h1v1h-1zM70 113h1v1h-1zM71 114h1v1h-1zM72 115h1v1h-1zM73 116h2v1h-2zM75 117h1v1h-1zM76 118h1v1h-1zM77 119h1v1h-1zM78 120h1v1h-1zM79 121h1v1h-1zM80 122h1v1h-1zM81 123h2v1h-2zM83 124h1v1h-1zM84 125h1v1h-1zM85 126h1v1h-1zM86 127h1v1h-1zM87 128h1v1h-1zM88 129h2v1h-2zM90 130h1v1h-1zM91 131h1v1h-1zM92 132h1v1h-1zM93 133h2v1h-2zM95 134h1v1h-1zM96 135h1v1h-1zM97 136h2v1h-2zM99 137h1v1h-1zM100 138h1v1h-1zM101 139h2v1h-2zM103 140h2v1h-2zM105 141h1v1h-1zM106 142h2v1h-2zM108 143h1v1h-1zM109 144h2v1h-2zM111 145h1v1h-1zM112 146h2v1h-2zM114 147h1v1h-1zM115 148h2v1h-2zM117 149h2v1h-2zM119 150h1v1h-1zM120 151h2v1h-2zM122 152h1v1h-1zM123 153h2v1h-2zM125 154h2v1h-2zM127 155h1v1h-1zM128 156h1v1h-1zM129 157h2v1h-2zM131 158h1v1h-1zM132 159h2v1h-2zM134 160h2v1h-2zM136 161h2v1h-2zM138 162h2v1h-2zM140 163h2v1h-2zM142 164h2v1h-2zM144 165h2v1h-2zM146 166h2v1h-2zM148 167h2v1h-2zM150 168h2v1h-2zM152 169h2v1h-2zM154 170h3v1h-3zM157 171h2v1h-2zM159 172h2v1h-2zM161 173h2v1h-2zM163 174h2v1h-2zM165 175h2v1h-2zM167 176h3v1h-3zM170 177h3v1h-3zM173 178h2v1h-2zM175 179h3v1h-3zM178 180h3v1h-3zM181 181h3v1h-3zM184 182h3v1h-3zM187 183h2v1h-2zM189 184h3v1h-3zM192 185h3v1h-3zM195 186h3v1h-3zM198 187h3v1h-3zM201 188h3v1h-3zM204 189h3v1h-3zM207 190h3v1h-3zM210 191h3v1h-3zM213 192h4v1h-4zM217 193h4v1h-4zM221 194h4v1h-4zM225 195h5v1h-5zM230 196h5v1h-5zM235 197h6v1h-6zM241 198h6v1h-6zM368 198h1v1h-1zM247 199h7v1h-7zM367 199h1v1h-1zM254 200h7v1h-7zM365 200h2v1h-2zM261 201h10v1h-10zM364 201h1v1h-1zM271 202h18v1h-18zM363 202h1v1h-1zM289 203h20v1h-20zM334 203h8v1h-8zM361 203h2v1h-2zM309 204h11v1h-11zM327 204h7v1h-7zM342 204h5v1h-5zM360 204h1v1h-1zM320 205h7v1h-7zM347 205h5v1h-5zM357 205h3v1h-3zM352 206h5v1h-5z" fill="#d6ce2a" fill-opacity="0.50" shape-rendering="crispEdges"/>
<path d="M45.3 98.0 L46.7 98.5 L48.1 98.9 L49.5 99.3 L50.9 99.7 L52.3 100.2 L53.8 100.7 L55.2 101.4 L56.7 102.2 L58.2 103.2 L59.8 104.3 L61.4 105.6 L63.0 106.9 L64.6 108.3 L66.3 109.7 L67.9 111.1 L69.5 112.4 L71.1 113.7 L72.8 115.1 L74.4 116.5 L76.0 117.9 L77.7 119.3 L79.2 120.7 L80.8 122.0 L82.2 123.2 L83.6 124.4 L84.9 125.5 L86.1 126.6 L87.3 127.6 L88.4 128.7 L89.6 129.6 L90.7 130.6 L91.8 131.5 L92.9 132.4 L93.8 133.1 L94.8 133.9 L95.7 134.6 L96.7 135.3 L97.7 136.1 L98.8 136.8 L100.0 137.7 L101.4 138.6 L102.9 139.6 L104.4 140.7 L106.1 141.7 L107.7 142.8 L109.4 143.9 L111.1 145.0 L112.7 146.0 L114.3 147.0 L116.0 148.1 L117.6 149.1 L119.3 150.1 L120.9 151.1 L122.5 152.1 L124.1 153.1 L125.5 154.0 L126.8 154.9 L127.9 155.6 L128.9 156.4 L129.9 157.1 L131.0 157.8 L132.1 158.6 L133.4 159.4 L135.0 160.3 L136.9 161.3 L139.0 162.4 L141.4 163.6 L143.8 164.8 L146.3 165.9 L148.6 167.1 L150.8 168.1 L152.7 169.0 L154.4 169.8 L155.8 170.5 L157.2 171.1 L158.4 171.6 L159.6 172.1 L160.7 172.6 L161.8 173.1 L162.9 173.6 L163.9 174.1 L164.8 174.5 L165.6 174.9 L166.4 175.3 L167.2 175.7 L168.1 176.1 L169.1 176.5 L170.3 177.0 L171.7 177.5 L173.3 178.1 L175.1 178.7 L176.9 179.3 L178.7 180.0 L180.5 180.6 L182.3 181.2 L184.0 181.8 L185.5 182.4 L187.0 182.9 L188.3 183.4 L189.7 183.9 L191.1 184.4 L192.6 185.0 L194.2 185.6 L196.0 186.2 L198.0 186.9 L200.2 187.6 L202.6 188.4 L205.0 189.3 L207.5 190.1 L210.0 190.9 L212.5 191.6 L214.9 192.3 L217.3 192.9 L219.6 193.5 L222.0 194.1 L224.3 194.6 L226.6 195.1 L229.0 195.6 L231.3 196.1 L233.7 196.6 L236.1 197.1 L238.5 197.5 L240.9 197.9 L243.4 198.3 L245.8 198.7 L248.1 199.1 L250.4 199.5 L252.6 199.8 L254.7 200.1 L256.8 200.4 L258.8 200.7 L260.7 200.9 L262.6 201.1 L264.5 201.3 L266.3 201.5 L268.0 201.7 L269.6 201.9 L270.9 202.0 L272.2 202.1 L273.4 202.2 L274.7 202.3 L276.2 202.4 L277.9 202.5 L280.0 202.6 L282.6 202.7 L285.6 202.9 L289.0 203.0 L292.4 203.1 L295.9 203.3 L299.3 203.4 L302.4 203.6 L305.0 203.7 L307.2 203.8 L309.2 204.0 L311.0 204.1 L312.6 204.3 L314.1 204.4 L315.5 204.6 L316.7 204.7 L318.0 204.8 L319.2 204.9 L320.2 205.0 L321.0 205.1 L321.8 205.1 L322.6 205.2 L323.4 205.2 L324.1 205.2 L325.0 205.2 L325.9 205.1 L326.8 205.0 L327.8 204.9 L328.7 204.8 L329.7 204.6 L330.6 204.5 L331.5 204.3 L332.4 204.2 L333.3 204.1 L334.1 204.0 L335.0 203.9 L335.8 203.8 L336.7 203.7 L337.5 203.6 L338.4 203.6 L339.2 203.6 L340.0 203.6 L340.8 203.7 L341.6 203.8 L342.4 204.0 L343.3 204.1 L344.1 204.3 L345.0 204.4 L345.9 204.6 L346.9 204.8 L348.0 205.0 L349.1 205.3 L350.2 205.5 L351.3 205.7 L352.4 206.0 L353.4 206.1 L354.3 206.2 L355.1 206.2 L355.8 206.2 L356.5 206.2 L357.1 206.1 L357.6 206.0 L358.2 205.8 L358.8 205.6 L359.4 205.4 L360.0 205.1 L360.7 204.7 L361.3 204.3 L362.0 203.9 L362.6 203.4 L363.2 202.9 L363.8 202.4 L364.4 202.0 L365.0 201.6 L365.5 201.2 L366.0 200.8 L366.5 200.3 L367.0 199.9 L367.5 199.5 L368.0 199.1 L368.5 198.7" stroke="#d6ce2a" stroke-width="0.80" stroke-opacity="0.60" fill="none" stroke-linejoin="round"/>
<path d="M45 97h1v1h-1zM46 98h3v1h-3zM49 99h3v1h-3zM52 100h2v1h-2zM54 101h2v1h-2zM56 102h2v1h-2zM58 103h2v1h-2zM60 104h1v1h-1zM61 105h2v1h-2zM63 106h1v1h-1zM64 107h2v1h-2zM66 108h1v1h-1zM67 109h2v1h-2zM69 110h1v1h-1zM70 111h1v1h-1zM71 112h2v1h-2zM73 113h1v1h-1zM74 114h1v1h-1zM75 115h2v1h-2zM77 116h1v1h-1zM78 117h1v1h-1zM79 118h1v1h-1zM80 119h2v1h-2zM82 120h1v1h-1zM83 121h2v1h-2zM85 122h1v1h-1zM86 123h1v1h-1zM87 124h2v1h-2zM89 125h1v1h-1zM90 126h2v1h-2zM92 127h1v1h-1zM93 128h1v1h-1zM94 129h2v1h-2zM96 130h1v1h-1zM97 131h2v1h-2zM99 132h2v1h-2zM101 133h1v1h-1zM102 134h2v1h-2zM104 135h2v1h-2zM106 136h2v1h-2zM108 137h2v1h-2zM110 138h2v1h-2zM112 139h1v1h-1zM113 140h3v1h-3zM116 141h2v1h-2zM118 142h2v1h-2zM120 143h2v1h-2zM122 144h2v1h-2zM124 145h2v1h-2zM126 146h3v1h-3zM129 147h2v1h-2zM131 148h3v1h-3zM134 149h2v1h-2zM136 150h2v1h-2zM138 151h3v1h-3zM141 152h3v1h-3zM144 153h2v1h-2zM146 154h3v1h-3zM149 155h3v1h-3zM152 156h2v1h-2zM154 157h3v1h-3zM157 158h3v1h-3zM160 159h2v1h-2zM162 160h3v1h-3zM165 161h4v1h-4zM169 162h4v1h-4zM173 163h5v1h-5zM178 164h5v1h-5zM183 165h5v1h-5zM188 166h5v1h-5zM193 167h4v1h-4zM197 168h5v1h-5zM202 169h5v1h-5zM207 170h5v1h-5zM212 171h4v1h-4zM216 172h5v1h-5zM221 173h6v1h-6zM227 174h5v1h-5zM232 175h4v1h-4zM236 176h5v1h-5zM241 177h4v1h-4zM245 178h5v1h-5zM250 179h4v1h-4zM254 180h5v1h-5zM259 181h4v1h-4zM263 182h5v1h-5zM268 183h5v1h-5zM273 184h6v1h-6zM279 185h5v1h-5zM284 186h5v1h-5zM289 187h5v1h-5zM294 188h6v1h-6zM300 189h5v1h-5zM305 190h5v1h-5zM310 191h6v1h-6zM316 192h5v1h-5zM321 193h6v1h-6zM327 194h7v1h-7zM334 195h8v1h-8zM342 196h9v1h-9zM351 197h9v1h-9zM360 198h9v1h-9z" fill="#82be14" fill-opacity="0.50" shape-rendering="crispEdges"/>
<path d="M45.3 97.7 L46.7 98.2 L48.1 98.6 L49.5 99.1 L50.9 99.5 L52.3 100.0 L53.8 100.5 L55.2 101.2 L56.7 101.9 L58.2 102.7 L59.8 103.7 L61.4 104.7 L63.0 105.8 L64.6 106.9 L66.3 108.1 L67.9 109.2 L69.5 110.4 L71.1 111.6 L72.8 112.8 L74.4 114.0 L76.0 115.3 L77.7 116.5 L79.2 117.7 L80.8 118.9 L82.2 120.0 L83.6 121.0 L84.9 122.0 L86.2 122.9 L87.4 123.8 L88.6 124.6 L89.7 125.4 L90.9 126.2 L92.0 127.0 L93.1 127.8 L94.0 128.4 L94.9 129.1 L95.8 129.7 L96.7 130.3 L97.7 130.9 L98.8 131.6 L100.0 132.3 L101.4 133.1 L102.8 134.0 L104.4 134.9 L106.1 135.8 L107.7 136.7 L109.4 137.6 L111.1 138.5 L112.7 139.4 L114.3 140.2 L115.9 141.0 L117.5 141.8 L119.1 142.5 L120.7 143.3 L122.3 144.0 L123.9 144.7 L125.5 145.4 L127.1 146.1 L128.8 146.8 L130.4 147.5 L132.0 148.2 L133.7 148.9 L135.2 149.5 L136.8 150.2 L138.2 150.7 L139.5 151.3 L140.7 151.7 L141.7 152.1 L142.8 152.5 L143.9 153.0 L145.1 153.4 L146.4 153.9 L148.0 154.5 L149.9 155.2 L151.9 156.0 L154.2 156.9 L156.6 157.8 L159.0 158.6 L161.3 159.5 L163.5 160.3 L165.5 160.9 L167.3 161.5 L169.1 161.9 L170.7 162.3 L172.3 162.7 L173.9 163.0 L175.3 163.3 L176.8 163.6 L178.2 163.9 L179.6 164.2 L180.9 164.5 L182.1 164.8 L183.3 165.0 L184.5 165.2 L185.7 165.4 L186.8 165.7 L188.0 165.9 L189.1 166.1 L190.2 166.3 L191.2 166.6 L192.2 166.8 L193.2 167.0 L194.3 167.2 L195.4 167.5 L196.7 167.7 L198.1 168.0 L199.6 168.4 L201.2 168.7 L202.8 169.1 L204.5 169.4 L206.2 169.8 L207.9 170.1 L209.5 170.5 L211.1 170.8 L212.8 171.2 L214.4 171.5 L216.0 171.9 L217.7 172.2 L219.2 172.5 L220.8 172.8 L222.2 173.1 L223.6 173.4 L224.9 173.6 L226.1 173.8 L227.3 174.0 L228.5 174.2 L229.7 174.5 L230.8 174.7 L232.0 174.9 L233.1 175.1 L234.2 175.4 L235.2 175.6 L236.2 175.8 L237.2 176.1 L238.3 176.3 L239.4 176.6 L240.7 176.9 L242.1 177.2 L243.6 177.6 L245.2 177.9 L246.8 178.3 L248.5 178.7 L250.2 179.0 L251.9 179.4 L253.5 179.7 L255.1 180.1 L256.8 180.5 L258.4 180.8 L260.0 181.2 L261.7 181.5 L263.2 181.9 L264.8 182.2 L266.2 182.5 L267.6 182.8 L268.9 183.0 L270.1 183.3 L271.4 183.5 L272.5 183.7 L273.7 184.0 L274.8 184.2 L276.0 184.4 L277.1 184.6 L278.2 184.8 L279.2 185.0 L280.2 185.2 L281.2 185.3 L282.3 185.5 L283.4 185.7 L284.7 186.0 L286.1 186.3 L287.6 186.6 L289.2 186.9 L290.9 187.2 L292.5 187.6 L294.2 187.9 L295.9 188.2 L297.5 188.5 L299.1 188.8 L300.7 189.1 L302.2 189.4 L303.8 189.7 L305.4 190.0 L306.9 190.3 L308.6 190.6 L310.2 190.9 L311.9 191.2 L313.5 191.5 L315.2 191.8 L316.8 192.1 L318.6 192.4 L320.3 192.8 L322.1 193.1 L324.0 193.4 L326.0 193.7 L328.0 194.0 L330.1 194.3 L332.2 194.6 L334.4 194.9 L336.5 195.2 L338.7 195.5 L340.8 195.8 L342.9 196.1 L345.2 196.3 L347.4 196.6 L349.6 196.8 L351.8 197.1 L353.9 197.3 L355.9 197.5 L357.7 197.7 L359.3 197.8 L360.8 198.0 L362.2 198.1 L363.5 198.2 L364.7 198.4 L365.9 198.5 L367.2 198.6 L368.5 198.7" stroke="#82be14" stroke-width="0.80" stroke-opacity="0.60" fill="none" stroke-linejoin="round"/>
<path d="M45 97h1v1h-1zM46 98h3v1h-3zM49 99h3v1h-3zM52 100h3v1h-3zM55 101h2v1h-2zM57 102h1v1h-1zM58 103h2v1h-2zM60 104h2v1h-2zM62 105h1v1h-1zM63 106h1v1h-1zM64 107h2v1h-2zM66 108h1v1h-1zM67 109h2v1h-2zM69 110h1v1h-1zM70 111h2v1h-2zM72 112h1v1h-1zM73 113h1v1h-1zM74 114h2v1h-2zM76 115h1v1h-1zM77 116h1v1h-1zM78 117h2v1h-2zM80 118h1v1h-1zM81 119h1v1h-1zM82 120h2v1h-2zM84 121h1v1h-1zM85 122h2v1h-2zM87 123h1v1h-1zM88 124h1v1h-1zM89 125h2v1h-2zM91 126h1v1h-1zM92 127h2v1h-2zM94 128h1v1h-1zM95 129h2v1h-2zM97 130h2v1h-2zM99 131h1v1h-1zM100 132h2v1h-2zM102 133h2v1h-2zM104 134h2v1h-2zM106 135h2v1h-2zM108 136h2v1h-2zM110 137h2v1h-2zM112 138h2v1h-2zM114 139h2v1h-2zM116 140h2v1h-2zM118 141h2v1h-2zM120 142h2v1h-2zM122 143h3v1h-3zM125 144h2v1h-2zM127 145h3v1h-3zM130 146h2v1h-2zM132 147h3v1h-3zM135 148h2v1h-2zM137 149h3v1h-3zM140 150h2v1h-2zM142 151h3v1h-3zM145 152h3v1h-3zM148 153h3v1h-3zM151 154h2v1h-2zM153 155h3v1h-3zM156 156h3v1h-3zM159 157h3v1h-3zM162 158h4v1h-4zM166 159h4v1h-4zM170 160h5v1h-5zM175 161h5v1h-5zM180 162h5v1h-5zM185 163h6v1h-6zM191 164h6v1h-6zM197 165h6v1h-6zM203 166h6v1h-6zM209 167h6v1h-6zM215 168h6v1h-6zM221 169h7v1h-7zM228 170h8v1h-8zM236 171h8v1h-8zM244 172h8v1h-8zM252 173h8v1h-8zM260 174h10v1h-10zM270 175h11v1h-11zM281 176h10v1h-10zM291 177h9v1h-9zM300 178h8v1h-8zM308 179h8v1h-8zM316 180h9v1h-9zM325 181h10v1h-10zM335 182h10v1h-10zM345 183h9v1h-9zM354 184h9v1h-9zM363 185h6v1h-6z" fill="#46ca34" fill-opacity="0.50" shape-rendering="crispEdges"/>
<path d="M45.3 97.7 L46.7 98.2 L48.1 98.6 L49.5 99.0 L50.9 99.5 L52.3 99.9 L53.8 100.5 L55.2 101.1 L56.7 101.8 L58.2 102.6 L59.8 103.6 L61.4 104.6 L63.0 105.7 L64.6 106.8 L66.3 107.9 L67.9 109.1 L69.5 110.2 L71.1 111.3 L72.8 112.5 L74.4 113.7 L76.0 115.0 L77.7 116.2 L79.2 117.3 L80.8 118.5 L82.2 119.5 L83.6 120.5 L84.9 121.5 L86.2 122.4 L87.4 123.2 L88.6 124.1 L89.7 124.9 L90.9 125.6 L92.0 126.4 L93.1 127.1 L94.0 127.7 L94.9 128.4 L95.8 128.9 L96.7 129.5 L97.7 130.1 L98.8 130.8 L100.0 131.5 L101.4 132.3 L102.8 133.1 L104.4 134.0 L106.1 134.9 L107.7 135.8 L109.4 136.6 L111.1 137.5 L112.7 138.3 L114.3 139.1 L115.9 139.8 L117.5 140.6 L119.1 141.3 L120.7 142.0 L122.3 142.7 L123.9 143.4 L125.5 144.1 L127.1 144.8 L128.8 145.5 L130.4 146.2 L132.0 146.8 L133.7 147.5 L135.2 148.1 L136.8 148.7 L138.2 149.3 L139.5 149.8 L140.7 150.2 L141.7 150.6 L142.8 151.0 L143.9 151.4 L145.1 151.9 L146.4 152.3 L148.0 152.9 L149.9 153.6 L151.9 154.3 L154.2 155.1 L156.6 155.9 L159.0 156.7 L161.3 157.5 L163.5 158.2 L165.5 158.8 L167.3 159.3 L169.1 159.8 L170.7 160.1 L172.3 160.5 L173.9 160.8 L175.3 161.0 L176.8 161.3 L178.2 161.6 L179.6 161.9 L180.9 162.1 L182.1 162.3 L183.3 162.6 L184.5 162.8 L185.7 163.0 L186.8 163.2 L188.0 163.4 L189.1 163.6 L190.2 163.8 L191.2 163.9 L192.2 164.1 L193.2 164.3 L194.3 164.4 L195.4 164.6 L196.7 164.8 L198.1 165.1 L199.6 165.3 L201.2 165.6 L202.8 165.9 L204.5 166.2 L206.2 166.5 L207.9 166.8 L209.5 167.0 L211.1 167.3 L212.8 167.6 L214.4 167.8 L216.0 168.1 L217.7 168.4 L219.2 168.6 L220.8 168.9 L222.2 169.1 L223.6 169.3 L224.9 169.5 L226.1 169.7 L227.3 169.8 L228.5 170.0 L229.7 170.1 L230.8 170.3 L232.0 170.5 L233.1 170.6 L234.2 170.7 L235.2 170.9 L236.2 171.0 L237.2 171.1 L238.3 171.3 L239.4 171.4 L240.7 171.6 L242.1 171.8 L243.6 172.0 L245.2 172.1 L246.8 172.3 L248.5 172.6 L250.2 172.8 L251.9 173.0 L253.5 173.1 L255.1 173.3 L256.8 173.5 L258.4 173.7 L260.0 173.9 L261.7 174.1 L263.2 174.3 L264.8 174.4 L266.2 174.6 L267.6 174.7 L268.9 174.9 L270.1 175.0 L271.4 175.1 L272.5 175.2 L273.7 175.3 L274.8 175.4 L276.0 175.6 L277.1 175.7 L278.2 175.7 L279.2 175.8 L280.2 175.9 L281.2 176.0 L282.3 176.1 L283.4 176.2 L284.7 176.3 L286.1 176.5 L287.6 176.6 L289.2 176.8 L290.9 177.0 L292.5 177.2 L294.2 177.3 L295.9 177.5 L297.5 177.7 L299.1 177.9 L300.7 178.1 L302.2 178.3 L303.8 178.4 L305.4 178.6 L306.9 178.8 L308.6 179.0 L310.2 179.2 L311.9 179.4 L313.5 179.6 L315.2 179.8 L316.8 180.1 L318.6 180.3 L320.3 180.5 L322.1 180.7 L324.0 180.9 L326.0 181.1 L328.0 181.3 L330.1 181.5 L332.2 181.7 L334.4 181.9 L336.5 182.1 L338.7 182.3 L340.8 182.5 L342.9 182.7 L345.2 183.0 L347.4 183.2 L349.6 183.5 L351.8 183.7 L353.9 183.9 L355.9 184.2 L357.7 184.4 L359.3 184.5 L360.8 184.7 L362.2 184.8 L363.5 185.0 L364.7 185.1 L365.9 185.2 L367.2 185.4 L368.5 185.5" stroke="#46ca34" stroke-width="0.80" stroke-opacity="0.60" fill="none" stroke-linejoin="round"/>
<path d="M45 97h1v1h-1zM46 98h3v1h-3zM49 99h3v1h-3zM52 100h3v1h-3zM55 101h2v1h-2zM57 102h2v1h-2zM59 103h1v1h-1zM60 104h2v1h-2zM62 105h1v1h-1zM63 106h2v1h-2zM65 107h1v1h-1zM66 108h2v1h-2zM68 109h1v1h-1zM69 110h2v1h-2zM71 111h1v1h-1zM72 112h1v1h-1zM73 113h2v1h-2zM75 114h1v1h-1zM76 115h2v1h-2zM78 116h1v1h-1zM79 117h1v1h-1zM80 118h2v1h-2zM82 119h1v1h-1zM83 120h2v1h-2zM85 121h1v1h-1zM86 122h2v1h-2zM88 123h1v1h-1zM89 124h2v1h-2zM91 125h1v1h-1zM92 126h2v1h-2zM94 127h1v1h-1zM95 128h2v1h-2zM97 129h2v1h-2zM99 130h2v1h-2zM101 131h1v1h-1zM102 132h2v1h-2zM104 133h2v1h-2zM106 134h2v1h-2zM108 135h2v1h-2zM110 136h2v1h-2zM112 137h2v1h-2zM114 138h3v1h-3zM117 139h2v1h-2zM119 140h2v1h-2zM121 141h3v1h-3zM124 142h2v1h-2zM126 143h2v1h-2zM128 144h3v1h-3zM131 145h2v1h-2zM133 146h3v1h-3zM136 147h2v1h-2zM138 148h3v1h-3zM141 149h3v1h-3zM144 150h3v1h-3zM147 151h2v1h-2zM149 152h3v1h-3zM152 153h3v1h-3zM155 154h4v1h-4zM159 155h3v1h-3zM162 156h3v1h-3zM165 157h4v1h-4zM169 158h6v1h-6zM175 159h5v1h-5zM180 160h6v1h-6zM186 161h6v1h-6zM192 162h6v1h-6zM198 163h6v1h-6zM204 164h6v1h-6zM210 165h7v1h-7zM217 166h6v1h-6zM223 167h8v1h-8zM231 168h8v1h-8zM239 169h8v1h-8zM247 170h9v1h-9zM256 171h9v1h-9zM265 172h11v1h-11zM276 173h13v1h-13zM289 174h12v1h-12zM301 175h14v1h-14zM315 176h13v1h-13zM328 177h14v1h-14zM342 178h14v1h-14zM356 179h13v1h-13z" fill="#34c63e" fill-opacity="0.50" shape-rendering="crispEdges"/>
<path d="M45.3 97.7 L46.7 98.2 L48.1 98.6 L49.5 99.0 L50.9 99.4 L52.3 99.8 L53.8 100.3 L55.2 100.9 L56.7 101.6 L58.2 102.4 L59.8 103.4 L61.4 104.4 L63.0 105.4 L64.6 106.5 L66.3 107.7 L67.9 108.8 L69.5 109.9 L71.1 111.0 L72.8 112.1 L74.4 113.3 L76.0 114.5 L77.7 115.7 L79.2 116.8 L80.8 117.9 L82.2 118.9 L83.6 119.9 L84.9 120.8 L86.2 121.6 L87.4 122.5 L88.6 123.3 L89.7 124.0 L90.9 124.8 L92.0 125.5 L93.1 126.2 L94.0 126.8 L94.9 127.4 L95.8 128.0 L96.7 128.6 L97.7 129.1 L98.8 129.8 L100.0 130.5 L101.4 131.2 L102.8 132.0 L104.4 132.8 L106.1 133.7 L107.7 134.6 L109.4 135.4 L111.1 136.3 L112.7 137.1 L114.3 137.8 L115.9 138.5 L117.5 139.2 L119.1 139.9 L120.7 140.6 L122.3 141.3 L123.9 142.0 L125.5 142.7 L127.1 143.3 L128.8 144.0 L130.4 144.7 L132.0 145.3 L133.7 146.0 L135.2 146.6 L136.8 147.2 L138.2 147.8 L139.5 148.3 L140.7 148.7 L141.7 149.1 L142.8 149.5 L143.9 149.9 L145.1 150.4 L146.4 150.8 L148.0 151.4 L149.9 152.0 L151.9 152.7 L154.2 153.4 L156.6 154.2 L159.0 155.0 L161.3 155.7 L163.5 156.4 L165.5 157.0 L167.3 157.4 L169.1 157.8 L170.7 158.2 L172.3 158.5 L173.9 158.8 L175.3 159.0 L176.8 159.3 L178.2 159.6 L179.6 159.8 L180.9 160.1 L182.1 160.3 L183.3 160.5 L184.5 160.7 L185.7 160.9 L186.8 161.1 L188.0 161.3 L189.1 161.5 L190.2 161.6 L191.2 161.8 L192.2 161.9 L193.2 162.1 L194.3 162.3 L195.4 162.5 L196.7 162.7 L198.1 162.9 L199.6 163.1 L201.2 163.4 L202.8 163.7 L204.5 164.0 L206.2 164.2 L207.9 164.5 L209.5 164.8 L211.1 165.0 L212.8 165.3 L214.4 165.6 L216.0 165.8 L217.7 166.1 L219.2 166.3 L220.8 166.6 L222.2 166.8 L223.6 167.0 L224.9 167.2 L226.1 167.3 L227.3 167.5 L228.5 167.6 L229.7 167.8 L230.8 167.9 L232.0 168.1 L233.1 168.2 L234.2 168.4 L235.2 168.5 L236.2 168.6 L237.2 168.7 L238.3 168.9 L239.4 169.0 L240.7 169.2 L242.1 169.3 L243.6 169.5 L245.2 169.7 L246.8 169.9 L248.5 170.1 L250.2 170.3 L251.9 170.5 L253.5 170.7 L255.1 170.9 L256.8 171.0 L258.4 171.2 L260.0 171.4 L261.7 171.6 L263.2 171.8 L264.8 171.9 L266.2 172.1 L267.6 172.2 L268.9 172.3 L270.1 172.5 L271.4 172.6 L272.5 172.7 L273.7 172.8 L274.8 172.9 L276.0 173.0 L277.1 173.1 L278.2 173.1 L279.2 173.2 L280.2 173.3 L281.2 173.3 L282.3 173.4 L283.4 173.5 L284.7 173.6 L286.1 173.7 L287.6 173.8 L289.2 174.0 L290.9 174.1 L292.5 174.3 L294.2 174.4 L295.9 174.6 L297.5 174.7 L299.1 174.8 L300.7 174.9 L302.2 175.0 L303.8 175.1 L305.4 175.2 L306.9 175.4 L308.6 175.5 L310.2 175.6 L311.9 175.7 L313.5 175.8 L315.2 176.0 L316.8 176.1 L318.6 176.3 L320.3 176.4 L322.1 176.5 L324.0 176.7 L326.0 176.8 L328.0 177.0 L330.1 177.1 L332.2 177.3 L334.4 177.4 L336.5 177.6 L338.7 177.7 L340.8 177.9 L342.9 178.0 L345.2 178.2 L347.4 178.4 L349.6 178.5 L351.8 178.7 L353.9 178.8 L355.9 179.0 L357.7 179.1 L359.3 179.2 L360.8 179.3 L362.2 179.4 L363.5 179.5 L364.7 179.6 L365.9 179.6 L367.2 179.7 L368.5 179.8" stroke="#34c63e" stroke-width="0.80" stroke-opacity="0.60" fill="none" stroke-linejoin="round"/>
<path d="M45.3 97.7 L46.7 98.2 L48.1 98.6 L49.5 99.0 L50.9 99.4 L52.3 99.8 L53.8 100.3 L55.2 100.9 L56.7 101.6 L58.2 102.4 L59.8 103.3 L61.4 104.3 L63.0 105.4 L64.6 106.5 L66.3 107.6 L67.9 108.7 L69.5 109.8 L71.1 110.9 L72.8 112.0 L74.4 113.2 L76.0 114.4 L77.7 115.6 L79.2 116.7 L80.8 117.8 L82.2 118.8 L83.6 119.8 L84.9 120.7 L86.2 121.5 L87.4 122.4 L88.6 123.2 L89.7 123.9 L90.9 124.7 L92.0 125.4 L93.1 126.1 L94.0 126.7 L94.9 127.3 L95.8 127.9 L96.7 128.4 L97.7 129.0 L98.8 129.6 L100.0 130.3 L101.4 131.1 L102.8 131.9 L104.4 132.7 L106.1 133.6 L107.7 134.4 L109.4 135.3 L111.1 136.1 L112.7 136.9 L114.3 137.7 L115.9 138.4 L117.5 139.1 L119.1 139.8 L120.7 140.5 L122.3 141.2 L123.9 141.8 L125.5 142.5 L127.1 143.2 L128.8 143.8 L130.4 144.5 L132.0 145.2 L133.7 145.8 L135.2 146.4 L136.8 147.0 L138.2 147.6 L139.5 148.1 L140.7 148.6 L141.7 149.0 L142.8 149.4 L143.9 149.8 L145.1 150.2 L146.4 150.7 L148.0 151.2 L149.9 151.8 L151.9 152.5 L154.2 153.3 L156.6 154.1 L159.0 154.8 L161.3 155.6 L163.5 156.2 L165.5 156.8 L167.3 157.3 L169.1 157.7 L170.7 158.0 L172.3 158.3 L173.9 158.6 L175.3 158.9 L176.8 159.1 L178.2 159.4 L179.6 159.7 L180.9 159.9 L182.1 160.1 L183.3 160.3 L184.5 160.5 L185.7 160.7 L186.8 160.9 L188.0 161.1 L189.1 161.3 L190.2 161.5 L191.2 161.6 L192.2 161.8 L193.2 161.9 L194.3 162.1 L195.4 162.3 L196.7 162.5 L198.1 162.7 L199.6 163.0 L201.2 163.2 L202.8 163.5 L204.5 163.8 L206.2 164.1 L207.9 164.3 L209.5 164.6 L211.1 164.9 L212.8 165.1 L214.4 165.4 L216.0 165.7 L217.7 165.9 L219.2 166.2 L220.8 166.4 L222.2 166.6 L223.6 166.8 L224.9 167.0 L226.1 167.1 L227.3 167.3 L228.5 167.5 L229.7 167.6 L230.8 167.8 L232.0 167.9 L233.1 168.0 L234.2 168.2 L235.2 168.3 L236.2 168.4 L237.2 168.6 L238.3 168.7 L239.4 168.8 L240.7 169.0 L242.1 169.2 L243.6 169.3 L245.2 169.5 L246.8 169.7 L248.5 169.9 L250.2 170.1 L251.9 170.3 L253.5 170.5 L255.1 170.7 L256.8 170.9 L258.4 171.1 L260.0 171.2 L261.7 171.4 L263.2 171.6 L264.8 171.7 L266.2 171.9 L267.6 172.0 L268.9 172.2 L270.1 172.3 L271.4 172.4 L272.5 172.5 L273.7 172.6 L274.8 172.7 L276.0 172.8 L277.1 172.9 L278.2 173.0 L279.2 173.0 L280.2 173.1 L281.2 173.2 L282.3 173.2 L283.4 173.3 L284.7 173.4 L286.1 173.5 L287.6 173.6 L289.2 173.8 L290.9 173.9 L292.5 174.1 L294.2 174.2 L295.9 174.4 L297.5 174.5 L299.1 174.6 L300.7 174.7 L302.2 174.8 L303.8 175.0 L305.4 175.1 L306.9 175.2 L308.6 175.3 L310.2 175.4 L311.9 175.5 L313.5 175.7 L315.2 175.8 L316.8 175.9 L318.6 176.1 L320.3 176.2 L322.1 176.4 L324.0 176.5 L326.0 176.6 L328.0 176.8 L330.1 176.9 L332.2 177.1 L334.4 177.2 L336.5 177.4 L338.7 177.5 L340.8 177.7 L342.9 177.9 L345.2 178.0 L347.4 178.2 L349.6 178.3 L351.8 178.5 L353.9 178.6 L355.9 178.8 L357.7 178.9 L359.3 179.0 L360.8 179.1 L362.2 179.2 L363.5 179.3 L364.7 179.4 L365.9 179.4 L367.2 179.5 L368.5 179.6" stroke="#0000ff" stroke-width="1.70" fill="none" stroke-linejoin="round" stroke-dasharray="4.9,5.7" stroke-dashoffset="0.6"/>
<rect x="44.60" y="7.50" width="323.90" height="220.80" fill="none" stroke="#3c3c3c" stroke-width="0.95"/>
<g opacity="0.999">
<text transform="translate(64.05 241.20) scale(1.090 1)" text-anchor="middle" font-size="14.50">2</text>
<text transform="translate(98.14 241.20) scale(1.090 1)" text-anchor="middle" font-size="14.50">4</text>
<text transform="translate(132.24 241.20) scale(1.090 1)" text-anchor="middle" font-size="14.50">6</text>
<text transform="translate(166.33 241.20) scale(1.090 1)" text-anchor="middle" font-size="14.50">8</text>
<text transform="translate(200.43 241.20) scale(1.090 1)" text-anchor="middle" font-size="14.50">10</text>
<text transform="translate(234.52 241.20) scale(1.090 1)" text-anchor="middle" font-size="14.50">12</text>
<text transform="translate(268.62 241.20) scale(1.090 1)" text-anchor="middle" font-size="14.50">14</text>
<text transform="translate(302.71 241.20) scale(1.090 1)" text-anchor="middle" font-size="14.50">16</text>
<text transform="translate(336.81 241.20) scale(1.090 1)" text-anchor="middle" font-size="14.50">18</text>
<text transform="translate(370.90 241.20) scale(1.090 1)" text-anchor="middle" font-size="14.50">20</text>
<text transform="translate(40.30 233.30) scale(1.090 1)" text-anchor="end" font-size="14.50">-0.5</text>
<text transform="translate(40.30 201.76) scale(1.090 1)" text-anchor="end" font-size="14.50">0</text>
<text transform="translate(40.30 170.21) scale(1.090 1)" text-anchor="end" font-size="14.50">0.5</text>
<text transform="translate(40.30 138.67) scale(1.090 1)" text-anchor="end" font-size="14.50">1</text>
<text transform="translate(40.30 107.13) scale(1.090 1)" text-anchor="end" font-size="14.50">1.5</text>
<text transform="translate(40.30 75.59) scale(1.090 1)" text-anchor="end" font-size="14.50">2</text>
<text transform="translate(40.30 44.04) scale(1.090 1)" text-anchor="end" font-size="14.50">2.5</text>
<text transform="translate(40.30 12.50) scale(1.090 1)" text-anchor="end" font-size="14.50">3</text>
<text transform="translate(196.1 258) scale(0.89 1)" font-size="17">r/r</text>
<text transform="translate(210.3 263) scale(0.99 1)" font-size="13.6">s</text>
<text transform="translate(18.6 135.5) rotate(-90) scale(1.08 1)" font-size="17">&#981;(t,r)</text>
<rect x="1.0" y="128.6" width="1.3" height="3" fill="#222"/>
<text transform="translate(322.3 19.50) scale(1.0 1)" text-anchor="end" font-size="10.60">t=0r<tspan font-size="8.4" dy="2.8">s</tspan></text>
<path d="M329 16.50 H358" stroke="#f2481c" stroke-width="0.62"/>
<text transform="translate(322.3 29.50) scale(1.0 1)" text-anchor="end" font-size="10.60">t=6.4t<tspan font-size="8.4" dy="2.8">s</tspan></text>
<path d="M329 26.50 H358" stroke="#f97f18" stroke-width="0.62"/>
<text transform="translate(322.3 40.50) scale(1.0 1)" text-anchor="end" font-size="10.60">t=12.8r<tspan font-size="8.4" dy="2.8">s</tspan></text>
<path d="M329 37.50 H358" stroke="#fdb31e" stroke-width="0.62"/>
<text transform="translate(322.3 51.00) scale(1.0 1)" text-anchor="end" font-size="10.60">t=19.2r<tspan font-size="8.4" dy="2.8">s</tspan></text>
<path d="M329 48.00 H358" stroke="#d6ce2a" stroke-width="0.62"/>
<text transform="translate(322.3 61.50) scale(1.0 1)" text-anchor="end" font-size="10.60">t=25.6r<tspan font-size="8.4" dy="2.8">s</tspan></text>
<path d="M329 58.50 H358" stroke="#82be14" stroke-width="0.62"/>
<text transform="translate(322.3 72.00) scale(1.0 1)" text-anchor="end" font-size="10.60">t=32.0r<tspan font-size="8.4" dy="2.8">s</tspan></text>
<path d="M329 69.00 H358" stroke="#46ca34" stroke-width="0.62"/>
<text transform="translate(322.3 82.50) scale(1.0 1)" text-anchor="end" font-size="10.60">t=64.0r<tspan font-size="8.4" dy="2.8">s</tspan></text>
<path d="M329 79.50 H358" stroke="#34c63e" stroke-width="0.62"/>
<text transform="translate(321.9 93.60) scale(1.0 1)" text-anchor="end" font-size="10.60">scalarized solution</text>
<path d="M329 90.20 H358" stroke="#0000ff" stroke-width="1.6" stroke-dasharray="5.6,5"/>
</g>
</svg></body></html>
